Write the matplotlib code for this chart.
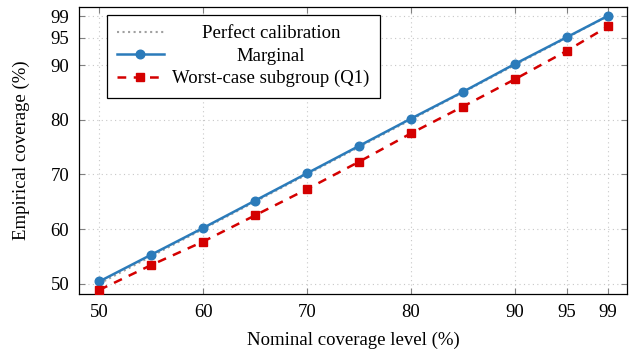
import matplotlib
matplotlib.use("Agg")
import matplotlib.pyplot as plt

# nominal levels (%) and measured coverage (%)
nominal = [50, 55, 60, 65, 70, 75, 80, 85, 90, 95, 99]
marginal = [50.4, 55.3, 60.2, 65.2, 70.2, 75.2, 80.2, 85.1, 90.2, 95.1, 99.05]
worst_q1 = [48.85, 53.4, 57.7, 62.5, 67.3, 72.3, 77.5, 82.4, 87.4, 92.6, 97.1]
ticks = [50, 60, 70, 80, 90, 95, 99]

plt.rcParams['font.family'] = ['Liberation Serif', 'DejaVu Serif']
plt.rcParams['mathtext.fontset'] = 'stix'
fs = 13.5

fig = plt.figure(figsize=(6.34, 3.51), dpi=100)
ax = fig.add_axes([0.1246, 0.1624, 0.864, 0.8176])

ax.plot([50, 99], [50, 99], linestyle=':', color='#a0a0a0', linewidth=1.5,
        label='Perfect calibration', zorder=2)
ax.plot(nominal, marginal, '-o', color='#2b7bba', linewidth=1.8,
        markersize=6.2, label='Marginal', zorder=3)
ax.plot(nominal, worst_q1, '--s', color='#d40000', linewidth=1.8,
        markersize=5.4, dashes=(3.5, 3), label='Worst-case subgroup (Q1)', zorder=4)

ax.set_xlim(48.04, 100.8)
ax.set_ylim(48.1, 100.65)
ax.set_xticks(ticks)
ax.set_yticks(ticks)
ax.tick_params(direction='in', length=4, width=0.8, color='#808080',
               top=True, right=True, labelsize=fs, pad=7)
ax.grid(True, linestyle=(0, (1, 3)), color='#c8c8c8', linewidth=0.8)
for s in ax.spines.values():
    s.set_linewidth(0.9)

ax.set_xlabel('Nominal coverage level (%)', fontsize=fs, labelpad=8)
ax.set_ylabel('Empirical coverage (%)', fontsize=fs, labelpad=15)

leg = ax.legend(loc='upper left', bbox_to_anchor=(0.0506, 0.972), borderaxespad=0,
                fancybox=False, edgecolor='black', framealpha=1, fontsize=fs,
                handlelength=2.5, labelspacing=0.28, borderpad=0.55, handletextpad=0.45)
leg.get_frame().set_linewidth(0.9)

# centre the legend entries in their column, like pgfplots does
fig.canvas.draw()
r = fig.canvas.get_renderer()
widths = [t.get_window_extent(r).width for t in leg.get_texts()]
wmax = max(widths)
for t, w in zip(leg.get_texts(), widths):
    t.set_ha('center')
    t.set_position(((wmax - w) / 2, 0))

fig.savefig('out.png', dpi=100)
